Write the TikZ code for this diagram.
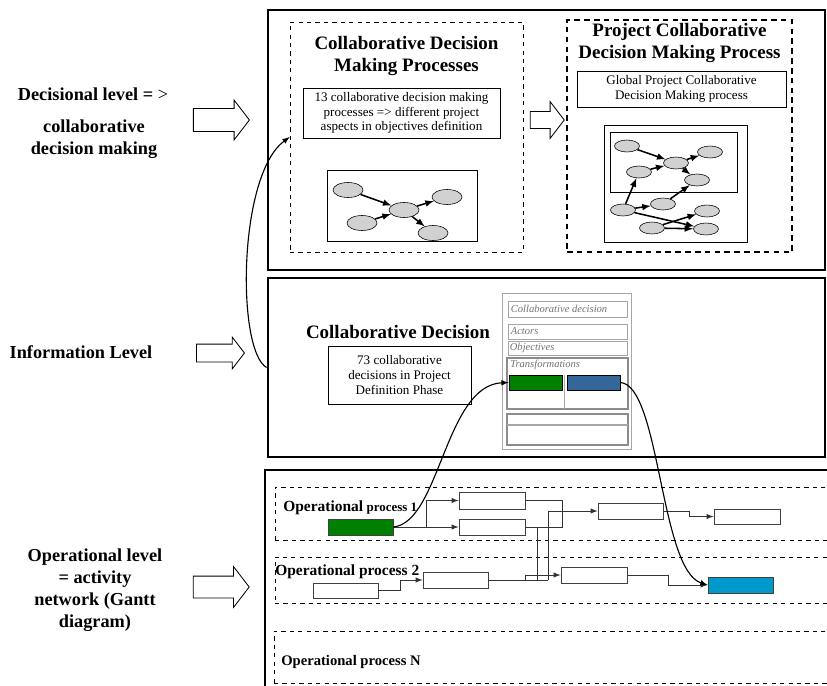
\documentclass[tikz,border=0pt]{standalone}
\usepackage{fontspec}
\setmainfont{Liberation Serif}
\usetikzlibrary{arrows,positioning,shapes.geometric,shapes.arrows,calc}

\definecolor{dgreen}{RGB}{0,128,0}
\definecolor{fblue}{RGB}{51,102,153}
\definecolor{gblue}{RGB}{0,153,204}

\begin{document}
\begin{tikzpicture}[x=0.25mm, y=-0.25mm, >=latex,
		every node/.style={inner sep=0pt},
		lvl/.style={font=\fontsize{13}{15.5}\selectfont\bfseries, align=center},
		ttl/.style={font=\fontsize{13.5}{16}\selectfont\bfseries, align=center},
		txt/.style={draw, font=\fontsize{9.3}{10.5}\selectfont, align=center},
		panel/.style={draw, line width=2pt},
		dbox/.style={draw, dashed, semithick},
		hollow/.style={single arrow, draw, semithick, single arrow head indent=0pt, single arrow tip angle=105},
		el/.style={ellipse, draw, fill=black!18, minimum width=7.5mm, minimum height=3.75mm},
		ge/.style={->, line width=1.1pt},
		frm/.style={draw=black!35, semithick},
		fbox/.style={draw=black!45, line width=1.4pt},
		flab/.style={text=black!55, font=\fontsize{7.5}{8}\selectfont\itshape, anchor=west},
		task/.style={draw=black!75, semithick, minimum width=16.25mm, minimum height=4mm},
		lnk/.style={draw=black!80, line width=0.7pt},
		cur/.style={->, line width=0.8pt}]

	\useasboundingbox (0,0) rectangle (827,686);

	% levels on the left
	\node[lvl] (DL) at (93,94) {Decisional level = \textmd{>}};
	\node[lvl] (CD) at (94,139) {collaborative\\decision making};
	\node[lvl] (IL) at (81,352) {Information Level};
	\node[lvl] (OL) at (95,590) {Operational level\\= activity\\network (Gantt\\diagram)};

	\node[hollow, minimum height=14mm, inner ysep=2.75mm, single arrow head extend=2.125mm] (AD) at (217,120) {};
	\node[hollow, minimum height=12mm, inner ysep=2.125mm, single arrow head extend=1.75mm] (AI) at (217,353) {};
	\node[hollow, minimum height=14mm, inner ysep=2.625mm, single arrow head extend=2.375mm] (AO) at (217,587) {};

	% panels
	\node[panel, minimum width=139.25mm, minimum height=65mm] (TP) at (546.5,140) {};
	\node[panel, minimum width=139.25mm, minimum height=44.75mm] (MP) at (546.5,367.5) {};
	\node[panel, minimum width=142.5mm, minimum height=57.5mm] (BP) at (550,585) {};

	% decisional level
	\node[dbox, thin, minimum width=58.25mm, minimum height=57.5mm] (CDM) at (406.5,137) {};
	\node[ttl] (CDMt) at (406.5,56) {Collaborative Decision\\Making Processes};
	\node[txt, minimum width=49.25mm, minimum height=12.5mm] (T1) at (401.5,113)
		{13 collaborative decision making\\processes => different project\\aspects in objectives definition};
	\node[draw, minimum width=37.5mm, minimum height=17.75mm] (G1) at (402,205.5) {};
	\node[el] (e1) at (348,190) {};
	\node[el] (e2) at (362,223) {};
	\node[el] (e3) at (404,210) {};
	\node[el] (e4) at (447,197) {};
	\node[el] (e5) at (433,233) {};
	\draw[ge] (e1) -- (e3);
	\draw[ge] (e2) -- (e3);
	\draw[ge] (e3) -- (e4);
	\draw[ge] (e3) -- (e5);

	\node[hollow, minimum height=8.5mm, inner ysep=2mm, single arrow head extend=2.5mm] (AM) at (544,120) {};

	\node[dbox, line width=1.3pt, dash pattern=on 4pt off 3pt, minimum width=56.25mm, minimum height=58mm] (PCD) at (679.5,136) {};
	\node[ttl] (PCDt) at (679.5,43) {Project Collaborative\\Decision Making Process};
	\node[txt, minimum width=52.25mm, minimum height=9mm] (T2) at (681.5,89)
		{Global Project Collaborative\\Decision Making process};
	\node[draw, minimum width=35.75mm, minimum height=29.25mm] (G2) at (675.5,183.5) {};
	\node[draw, minimum width=31.75mm, minimum height=15mm] (G2i) at (673.5,162) {};
	\begin{scope}[el/.append style={minimum width=6.25mm, minimum height=3mm}]
		\node[el] (a) at (627,146) {};
		\node[el] (b) at (676,163) {};
		\node[el] (c) at (710,152) {};
		\node[el] (d) at (639,172) {};
		\node[el] (f) at (697,180) {};
		\node[el] (g) at (623,210) {};
		\node[el] (h) at (663,204) {};
		\node[el] (i) at (707,211) {};
		\node[el] (j) at (652,228) {};
		\node[el] (k) at (706,229) {};
	\end{scope}
	\draw[ge] (a) -- (b);
	\draw[ge] (d) -- (b);
	\draw[ge] (b) -- (c);
	\draw[ge] (b) -- (f);
	\draw[ge] (g) -- (d);
	\draw[ge] (g) -- (h);
	\draw[ge] (h) -- (f);
	\draw[ge] (g) -- (k);
	\draw[ge] (j) -- (i);
	\draw[ge] (j) -- (k);

	% information level
	\node[ttl] (CDt) at (398,332) {Collaborative Decision};
	\node[txt, minimum width=35.75mm, minimum height=14.5mm] (T3) at (399.5,375)
		{73 collaborative\\decisions in Project\\Definition Phase};

	\node[frm, fill=white, minimum width=32.25mm, minimum height=39mm] (Fo) at (566.5,371) {};
	\node[frm, minimum width=29.75mm, minimum height=4mm] (f1) at (567.5,309) {};
	\node[frm, minimum width=29.75mm, minimum height=3.75mm] (f2) at (567.5,331.5) {};
	\node[frm, minimum width=29.75mm, minimum height=3.5mm] (f3) at (567.5,348) {};
	\node[fbox, minimum width=30.25mm, minimum height=12.75mm] (f4) at (567.5,383.5) {};
	\node[fbox, minimum width=30.25mm, minimum height=7.75mm] (f5) at (567.5,429.5) {};
	\node[flab] (f1l) at ($(f1.west)+(3,0)$) {Collaborative decision};
	\node[flab] (f2l) at ($(f2.west)+(3,0)$) {Actors};
	\node[flab] (f3l) at ($(f3.west)+(2,0)$) {Objectives};
	\node[flab, anchor=north west] (f4l) at ($(f4.north west)+(4,3)$) {Transformations};
	\node[draw, fill=dgreen, minimum width=13.25mm, minimum height=3.75mm] (FG) at (535.5,382.5) {};
	\node[draw, fill=fblue, minimum width=13.25mm, minimum height=3.75mm] (FB) at (593.5,382.5) {};
	\draw[frm] (564.5,375) -- (564.5,409);
	\draw[frm, line width=1pt] (507,425) -- (628,425);

	% operational level
	\node[dbox, thin, minimum width=141.25mm, minimum height=13.25mm] (D1) at (557.5,513.5) {};
	\node[dbox, thin, minimum width=141.25mm, minimum height=11.5mm] (D2) at (557.5,580) {};
	\node[dbox, thin, minimum width=141.5mm, minimum height=13mm] (DN) at (557,657) {};
	\node[anchor=west, font=\bfseries] (OP1) at (283,508)
		{{\fontsize{11}{13}\selectfont Operational} {\fontsize{9.2}{11}\selectfont process 1}};
	\node[anchor=west, font=\fontsize{11}{13}\selectfont\bfseries] (OP2) at (275,572) {Operational process 2};
	\node[anchor=west, font=\fontsize{10.4}{12}\selectfont\bfseries] (OPN) at (281,662) {Operational process N};

	\node[task, fill=dgreen] (G) at (360.5,527) {};
	\node[task, minimum width=16.5mm, minimum height=4.25mm] (A1) at (492,500.5) {};
	\node[task, minimum width=16.5mm] (A2) at (492,527) {};
	\node[task, minimum height=3.75mm] (B0) at (345.5,590.5) {};
	\node[task] (B) at (455.5,580) {};
	\node[task] (C) at (630.5,511) {};
	\node[task, minimum width=16.5mm, minimum height=3.75mm] (D) at (747,516.5) {};
	\node[task, minimum width=16.5mm] (E) at (594,575) {};
	\node[task, fill=gblue] (F) at (740.5,585) {};

	\coordinate (jA) at ($(G.east)+(33,0)$);
	\coordinate (jC) at ($(A2.east)+(12,0)$);
	\coordinate (jD) at ($(B.east)+(60,0)$);
	\coordinate (jE) at ($(B.east)+(37,0)$);
	\draw[lnk, ->] (G.east) -- (A2.west);
	\draw[lnk, ->] (jA) |- (A1.west);
	\draw[lnk] (A1.east) -- ++(37,0) |- (A2.east);
	\draw[lnk] (jC) -- (jC |- B.east);
	\draw[lnk] (B.east) -- (jD);
	\draw[lnk, ->] (jD) |- (C.west);
	\draw[lnk, ->] (jE) |- (E.west);
	\draw[lnk, ->] (B0.east) -- ++(22,0) |- (B.west);
	\draw[lnk, ->] (C.east) -- ++(26,0) |- (D.west);
	\draw[lnk, ->] (E.east) -- ++(41,0) |- (F.west);

	% links between levels
	\draw[cur] (MP.west) .. controls +(-30,-17) and +(-52,38) .. (CDM.west);
	\draw[cur] (G.east) .. controls (440,522) and (445,385) .. (FG.west);
	\draw[cur] (FB.east) .. controls (660,385) and (660,570) .. (F.west);

\end{tikzpicture}
\end{document}
